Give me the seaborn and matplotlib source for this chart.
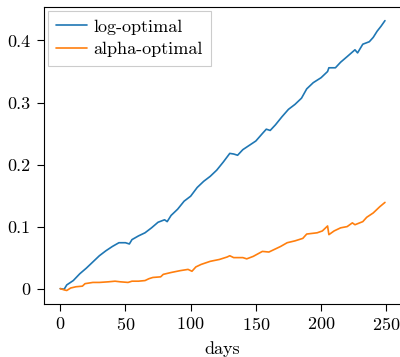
import matplotlib
matplotlib.use("Agg")
import matplotlib.pyplot as plt
import pandas as pd
import seaborn as sns

# values
log_days = [0, 3, 5, 10, 15, 20, 25, 30, 35, 40, 45, 50, 53, 55, 60, 65, 70, 75,
            80, 82, 85, 90, 95, 100, 105, 110, 115, 120, 125, 130, 133, 136, 140,
            145, 150, 155, 158, 161, 165, 170, 175, 180, 185, 189, 194, 200, 205,
            206, 211, 215, 220, 226, 228, 232, 237, 240, 243, 246, 249]
log_vals = [0.000, -0.001, 0.006, 0.013, 0.024, 0.033, 0.043, 0.053, 0.061, 0.068,
            0.074, 0.074, 0.072, 0.079, 0.085, 0.090, 0.098, 0.107, 0.111, 0.108,
            0.118, 0.128, 0.141, 0.149, 0.163, 0.173, 0.181, 0.191, 0.204, 0.218,
            0.217, 0.215, 0.224, 0.231, 0.238, 0.250, 0.257, 0.255, 0.264, 0.277,
            0.289, 0.297, 0.307, 0.322, 0.332, 0.340, 0.350, 0.356, 0.356, 0.365,
            0.374, 0.385, 0.380, 0.394, 0.398, 0.405, 0.415, 0.423, 0.432]

alpha_days = [0, 3, 5, 8, 12, 17, 19, 25, 30, 37, 42, 46, 52, 55, 60, 65, 68, 71,
              77, 79, 85, 92, 98, 101, 104, 108, 115, 122, 128, 130, 133, 140, 143,
              148, 155, 160, 165, 169, 174, 180, 186, 189, 197, 201, 205, 206, 210,
              215, 220, 224, 226, 232, 235, 240, 245, 249]
alpha_vals = [0.000, -0.002, -0.003, 0.001, 0.003, 0.004, 0.008, 0.010, 0.010,
              0.011, 0.012, 0.011, 0.010, 0.012, 0.012, 0.013, 0.016, 0.018, 0.019,
              0.023, 0.026, 0.029, 0.031, 0.028, 0.035, 0.039, 0.044, 0.047, 0.051,
              0.053, 0.050, 0.050, 0.048, 0.052, 0.060, 0.059, 0.064, 0.068, 0.074,
              0.077, 0.081, 0.088, 0.090, 0.093, 0.101, 0.087, 0.093, 0.098, 0.100,
              0.106, 0.103, 0.108, 0.115, 0.122, 0.132, 0.139]

x_ticks = [0, 50, 100, 150, 200, 250]
y_ticks = [0, 0.1, 0.2, 0.3, 0.4]
y_tick_labels = ["0", "0.1", "0.2", "0.3", "0.4"]

df = pd.concat([
    pd.DataFrame({"days": log_days, "value": log_vals, "strategy": "log-optimal"}),
    pd.DataFrame({"days": alpha_days, "value": alpha_vals, "strategy": "alpha-optimal"}),
])

sns.set_style("ticks")
plt.rcParams.update({
    "font.family": "serif",
    "font.serif": ["cmr10"],
    "mathtext.fontset": "cm",
    "axes.unicode_minus": False,
    "axes.formatter.use_mathtext": True,
    "font.size": 13,
    "axes.edgecolor": "black",
    "xtick.color": "black",
    "ytick.color": "black",
    "axes.labelcolor": "black",
    "text.color": "black",
})

fig = plt.figure(figsize=(4.0, 3.57), dpi=100)
ax = fig.add_axes([0.11, 0.1485, 0.893, 0.8315])

sns.lineplot(data=df, x="days", y="value", hue="strategy",
             palette=["#1f77b4", "#ff7f0e"], linewidth=1.2, ax=ax)

ax.set_xticks(x_ticks)
ax.set_yticks(y_ticks)
ax.set_yticklabels(y_tick_labels)
ax.set_xlabel("days", fontsize=13, labelpad=6)
ax.set_ylabel("")
ax.tick_params(labelsize=13, length=5, width=0.8)
ax.tick_params(axis="y", pad=5)
for s in ax.spines.values():
    s.set_linewidth(0.8)

leg = ax.legend(loc="upper left", fancybox=False, fontsize=13, handlelength=1.75,
                handletextpad=0.35, borderaxespad=0.2, borderpad=0.45,
                labelspacing=0.4, framealpha=1.0)
leg.get_frame().set_edgecolor("#cccccc")
leg.get_frame().set_linewidth(0.8)

fig.savefig("out.png", dpi=100)
